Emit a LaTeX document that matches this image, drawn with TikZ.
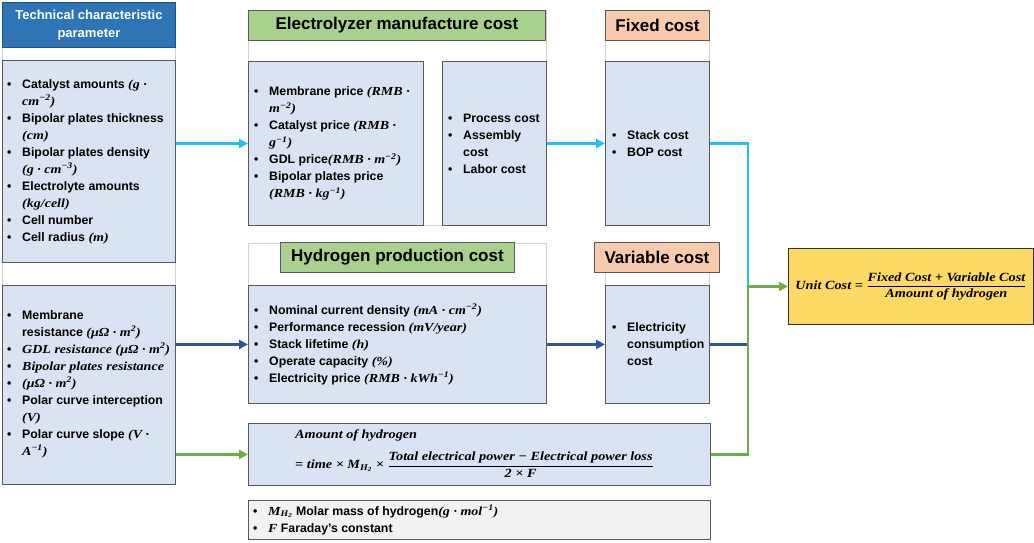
\documentclass[tikz,border=0pt]{standalone}
\usepackage{fontspec}
\setmainfont{Liberation Sans}
\newfontfamily\mathfnt[FakeStretch=1.14]{Liberation Serif}
\usepackage{amsmath}
\usetikzlibrary{arrows.meta,positioning}
\definecolor{paneblue}{HTML}{DAE3F3}
\definecolor{framegray}{HTML}{595959}
\definecolor{titleblue}{HTML}{2E75B6}
\definecolor{titlegreen}{HTML}{A9D18E}
\definecolor{titleorange}{HTML}{F8CBAD}
\definecolor{unitgold}{HTML}{FFD966}
\definecolor{notegray}{HTML}{F2F2F2}
\definecolor{linklight}{HTML}{1EBEF7}
\definecolor{linkdark}{HTML}{2F5597}
\definecolor{linkgreen}{HTML}{70AD47}
\newcommand{\bul}{\makebox[15pt][l]{\textbullet}}
\newcommand{\ind}{\hspace*{15pt}}
\newcommand{\mi}[1]{{\mathfnt\bfseries\itshape #1}}
\newcommand{\su}[1]{\textsuperscript{#1}}
\begin{document}
\begin{tikzpicture}[x=1pt,y=-1pt,
    panel/.style={draw=framegray,fill=paneblue,line width=0.9pt,anchor=north west,inner sep=0pt},
    frame/.style={draw=gray!35,line width=0.6pt,fill=white},
    title/.style={draw=framegray,line width=0.9pt,anchor=north west,inner sep=0pt,font=\fontsize{17}{20}\selectfont\bfseries},
    items/.style={anchor=west,inner sep=0pt,align=left,font=\fontsize{12.3}{17}\selectfont\bfseries},
    link/.style={line width=2.6pt},
    tip/.style={-{Triangle[length=9pt,width=9pt]}}]
    \useasboundingbox (0,0) rectangle (1034,543);
    %% Frames
    \draw[frame] (2,2) rectangle (175,484);
    \draw[frame] (248,10) rectangle (546,225);
    \draw[frame] (605,10) rectangle (709,225);
    \draw[frame] (248,243) rectangle (546,403);
    \draw[frame] (605,272) rectangle (709,403);
    %% Titles
    \node[title,fill=titleblue,draw=titleblue!70!black,minimum width=173,minimum height=45,align=center,text=white,font=\fontsize{13}{18}\selectfont\bfseries] (techtitle) at (2,2) {Technical characteristic\\parameter};
    \node[title,fill=titlegreen,minimum width=297,minimum height=30] (electitle) at (248,10) {Electrolyzer manufacture cost};
    \node[title,fill=titleorange,minimum width=104,minimum height=30] (fixtitle) at (605,10) {Fixed cost};
    \node[title,fill=titlegreen,minimum width=234,minimum height=30] (prodtitle) at (280,242) {Hydrogen production cost};
    \node[title,fill=titleorange,minimum width=125,minimum height=30] (vartitle) at (594,242) {Variable cost};
    %% Panels
    \node[panel,minimum width=173,minimum height=202] (tech1) at (2,60) {};
    \node[panel,minimum width=173,minimum height=199] (tech2) at (2,285) {};
    \node[panel,minimum width=175,minimum height=164] (elec1) at (248,61) {};
    \node[panel,minimum width=104,minimum height=164] (elec2) at (442,61) {};
    \node[panel,minimum width=104,minimum height=164] (fixbox) at (605,61) {};
    \node[panel,minimum width=298,minimum height=118] (prod) at (248,285) {};
    \node[panel,minimum width=104,minimum height=118] (varbox) at (605,285) {};
    \node[panel,minimum width=462,minimum height=62] (amount) at (248,423) {};
    \node[panel,fill=notegray,minimum width=462,minimum height=39] (notes) at (248,500) {};
    \node[panel,fill=unitgold,draw=black!80,minimum width=245,minimum height=76] (unit) at (788,248) {};
    %% Texts
    \node[items] (tech1txt) at ([xshift=5]tech1.west) {\bul Catalyst amounts \mi{(g ·}\\
        \ind\mi{cm\su{−2})}\\
        \bul Bipolar plates thickness\\
        \ind\mi{(cm)}\\
        \bul Bipolar plates density\\
        \ind\mi{(g · cm\su{−3})}\\
        \bul Electrolyte amounts\\
        \ind\mi{(kg/cell)}\\
        \bul Cell number\\
        \bul Cell radius \mi{(m)}};
    \node[items] (tech2txt) at ([xshift=5,yshift=1]tech2.west) {\bul Membrane\\
        \ind resistance \mi{(μΩ · m\su{2})}\\
        \bul \mi{GDL resistance (μΩ · m\su{2})}\\
        \bul \mi{Bipolar plates resistance}\\
        \bul \mi{(μΩ · m\su{2})}\\
        \bul Polar curve interception\\
        \ind\mi{(V)}\\
        \bul Polar curve slope \mi{(V ·}\\
        \ind\mi{A\su{−1})}};
    \node[items] (elec1txt) at ([xshift=6]elec1.west) {\bul Membrane price \mi{(RMB ·}\\
        \ind\mi{m\su{−2})}\\
        \bul Catalyst price \mi{(RMB ·}\\
        \ind\mi{g\su{−1})}\\
        \bul GDL price\mi{(RMB · m\su{−2})}\\
        \bul Bipolar plates price\\
        \ind\mi{(RMB · kg\su{−1})}};
    \node[items] (elec2txt) at ([xshift=6]elec2.west) {\bul Process cost\\
        \bul Assembly\\
        \ind cost\\
        \bul Labor cost};
    \node[items] (fixtxt) at ([xshift=7]fixbox.west) {\bul Stack cost\\
        \bul BOP cost};
    \node[items] (prodtxt) at ([xshift=6]prod.west) {\bul Nominal current density \mi{(mA · cm\su{−2})}\\
        \bul Performance recession \mi{(mV/year)}\\
        \bul Stack lifetime \mi{(h)}\\
        \bul Operate capacity \mi{(\%)}\\
        \bul Electricity price \mi{(RMB · kWh\su{−1})}};
    \node[items] (vartxt) at ([xshift=7]varbox.west) {\bul Electricity\\
        \ind consumption\\
        \ind cost};
    \node[items,font=\fontsize{12.5}{15}\selectfont\bfseries] (amounttxt) at ([xshift=47,yshift=1]amount.west) {\mi{Amount of hydrogen}\\[10pt]
        \mi{= time × M\textsubscript{H\textsubscript{2}} ×} $\dfrac{\mbox{\mi{Total electrical power − Electrical power loss}}}{\mbox{\mi{2 × F}}}$};
    \node[items] (notestxt) at ([xshift=5]notes.west) {\bul \mi{M\textsubscript{H\textsubscript{2}}} Molar mass of hydrogen\mi{(g · mol\su{−1})}\\
        \bul \mi{F} Faraday's constant};
    \node[inner sep=0pt,font=\fontsize{12.5}{15}\selectfont\bfseries] (unittxt) at (unit.center) {\mi{Unit Cost =} $\dfrac{\mbox{\mi{Fixed Cost + Variable Cost}}}{\mbox{\mi{Amount of hydrogen}}}$};
    %% Links
    \coordinate (jn) at ([xshift=-40]unit.west);
    \draw[link,tip,linklight] (tech1.east |- elec1.west) -- (elec1.west);
    \draw[link,tip,linklight] (elec2.east) -- (fixbox.west);
    \draw[link,linklight] (fixbox.east) -| (jn);
    \draw[link,tip,linkdark] (tech2.east |- prod.west) -- (prod.west);
    \draw[link,tip,linkdark] (prod.east) -- (varbox.west);
    \draw[link,linkdark] (varbox.east) -- (varbox.east -| jn);
    \draw[link,tip,linkgreen] (tech2.east |- amount.west) -- (amount.west);
    \draw[link,tip,linkgreen] (amount.east) -| (jn) -- (unit.west);
\end{tikzpicture}
\end{document}
